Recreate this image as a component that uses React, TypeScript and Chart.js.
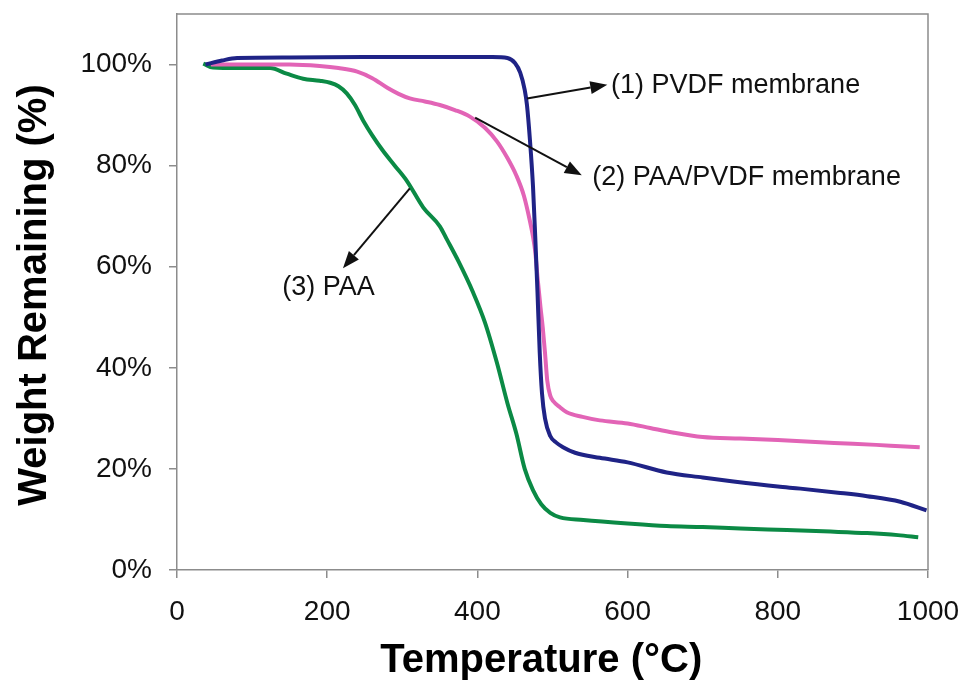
import React, { useEffect, useRef } from 'react';
import { Chart, registerables } from 'chart.js';

Chart.register(...registerables);

// (1) PVDF membrane
const pvdfT = [38, 60, 80, 150, 250, 350, 420, 440, 450, 457, 463, 466, 470, 474, 477, 480, 483, 486, 490, 497, 505, 514, 530, 563, 600, 652, 700, 741, 800, 830, 880, 919, 963, 998];
const pvdfW = [100, 100.8, 101.3, 101.4, 101.5, 101.5, 101.5, 101.3, 100.3, 98.4, 95, 92, 85, 76, 66, 55, 43, 35, 30, 26.5, 25.2, 24.3, 23.2, 22.2, 21.3, 19.3, 18.3, 17.5, 16.5, 16.1, 15.3, 14.6, 13.5, 11.8];

// (2) PAA/PVDF membrane
const paaPvdfT = [45, 80, 150, 190, 215, 240, 260, 280, 295, 310, 330, 350, 370, 390, 410, 426, 440, 452, 462, 470, 474, 477, 480, 484, 487, 490, 493, 497, 501, 510, 519, 540, 563, 600, 630, 660, 700, 750, 800, 850, 900, 950, 989];
const paaPvdfW = [100, 100, 100, 99.7, 99.3, 98.6, 97.3, 95.4, 94.2, 93.3, 92.7, 92, 91, 89.7, 87.5, 84.8, 81.5, 78, 74, 69, 66, 63, 58, 52, 48, 43, 37.5, 34.5, 33.4, 32.2, 31.2, 30.3, 29.6, 29.0, 28.1, 27.2, 26.3, 26.0, 25.7, 25.3, 25.0, 24.6, 24.3];

// (3) PAA
const paaT = [35, 48, 80, 124, 146, 168, 190, 204, 215, 226, 237, 248, 260, 274, 290, 306, 328, 350, 359, 375, 394, 410, 426, 440, 452, 463, 474, 485, 497, 510, 541, 600, 652, 700, 750, 812, 870, 919, 960, 987];
const paaW = [100.2, 99.4, 99.3, 99.3, 98.2, 97.2, 96.8, 96.4, 95.7, 94.3, 92, 88.9, 86, 83, 80, 77, 71.7, 68, 65.5, 61, 55, 49, 41, 33, 26.9, 20, 15.8, 13, 11.3, 10.4, 9.9, 9.2, 8.7, 8.5, 8.2, 7.9, 7.6, 7.3, 6.9, 6.5];

const seriesNames = ['(1) PVDF membrane', '(2) PAA/PVDF membrane', '(3) PAA'];
const seriesColors = ['#1f2386', '#e264b6', '#0b8a45'];

// tick labels
const xTickValues = [0, 200, 400, 600, 800, 1000];
const xTickLabels = ['0', '200', '400', '600', '800', '1000'];
const yTickValues = [0, 20, 40, 60, 80, 100];
const yTickLabels = ['0%', '20%', '40%', '60%', '80%', '100%'];

// callouts (text anchor + arrow from curve to text), in data units
const calloutTexts = ['(1) PVDF membrane', '(2) PAA/PVDF membrane', '(3) PAA'];
const calloutTextT = [578, 553, 140];
const calloutTextW = [95.85, 77.7, 55.9];
const arrowFromT = [466, 397, 310];
const arrowFromW = [93.3, 89.5, 75.5];
const arrowToT = [573, 539, 221];
const arrowToW = [96.0, 78.1, 59.7];

const xTitle = 'Temperature (°C)';
const yTitle = 'Weight Remaining (%)';

const FONT = '"Liberation Sans", Arial, Helvetica, sans-serif';
const GREY = '#8c8c8c';

export default function App() {
  const ref = useRef<HTMLCanvasElement>(null);

  useEffect(() => {
    const canvas = ref.current;
    if (!canvas) return;

    const toPts = (t: number[], w: number[]) => t.map((v, i) => ({ x: v, y: w[i] }));

    const framePlugin = {
      id: 'frame',
      beforeDatasetsDraw(chart: any) {
        const { ctx, chartArea: a } = chart;
        ctx.save();
        ctx.strokeStyle = GREY;
        ctx.lineWidth = 1.5;
        ctx.beginPath();
        ctx.moveTo(a.left, a.top);
        ctx.lineTo(a.right, a.top);
        ctx.lineTo(a.right, a.bottom);
        ctx.stroke();
        ctx.restore();
      },
    };

    const calloutPlugin = {
      id: 'callouts',
      afterDatasetsDraw(chart: any) {
        const { ctx } = chart;
        const xs = chart.scales.x;
        const ys = chart.scales.y;
        ctx.save();
        for (let i = 0; i < calloutTexts.length; i++) {
          const x1 = xs.getPixelForValue(arrowFromT[i]);
          const y1 = ys.getPixelForValue(arrowFromW[i]);
          const x2 = xs.getPixelForValue(arrowToT[i]);
          const y2 = ys.getPixelForValue(arrowToW[i]);
          const ang = Math.atan2(y2 - y1, x2 - x1);
          const headLen = 17;
          const headHalf = 6.5;
          const bx = x2 - headLen * Math.cos(ang);
          const by = y2 - headLen * Math.sin(ang);
          ctx.strokeStyle = '#111';
          ctx.fillStyle = '#111';
          ctx.lineWidth = 2;
          ctx.beginPath();
          ctx.moveTo(x1, y1);
          ctx.lineTo(bx, by);
          ctx.stroke();
          ctx.beginPath();
          ctx.moveTo(x2, y2);
          ctx.lineTo(bx + headHalf * Math.sin(ang), by - headHalf * Math.cos(ang));
          ctx.lineTo(bx - headHalf * Math.sin(ang), by + headHalf * Math.cos(ang));
          ctx.closePath();
          ctx.fill();

          ctx.font = `27px ${FONT}`;
          ctx.textAlign = 'left';
          ctx.textBaseline = 'middle';
          ctx.fillStyle = '#111';
          ctx.fillText(
            calloutTexts[i],
            xs.getPixelForValue(calloutTextT[i]),
            ys.getPixelForValue(calloutTextW[i])
          );
        }
        ctx.restore();
      },
      afterDraw(chart: any) {
        const { ctx, chartArea: a } = chart;
        ctx.save();
        ctx.fillStyle = '#000';
        ctx.font = `bold 40px ${FONT}`;
        ctx.textAlign = 'center';
        ctx.textBaseline = 'alphabetic';
        ctx.fillText(xTitle, a.left + (a.right - a.left) * 0.485, 672);
        ctx.translate(46, (a.top + a.bottom) / 2 + 3);
        ctx.rotate(-Math.PI / 2);
        ctx.fillText(yTitle, 0, 0);
        ctx.restore();
      },
    };

    const labelFor = (values: number[], labels: string[]) => (v: any) => {
      const i = values.indexOf(Number(v));
      return i >= 0 ? labels[i] : '';
    };

    const chart = new Chart(canvas, {
      type: 'line',
      data: {
        datasets: [
          { label: seriesNames[0], data: toPts(pvdfT, pvdfW), borderColor: seriesColors[0] },
          { label: seriesNames[1], data: toPts(paaPvdfT, paaPvdfW), borderColor: seriesColors[1] },
          { label: seriesNames[2], data: toPts(paaT, paaW), borderColor: seriesColors[2] },
        ].map((d) => ({
          ...d,
          borderWidth: 4,
          pointRadius: 0,
          fill: false,
          cubicInterpolationMode: 'monotone' as const,
        })),
      },
      options: {
        responsive: false,
        animation: false,
        devicePixelRatio: 1,
        layout: { padding: { top: 14, right: 40, left: 0, bottom: 0 } },
        plugins: {
          legend: { display: false },
          tooltip: { enabled: false },
          title: { display: false },
        },
        scales: {
          x: {
            type: 'linear',
            min: 0,
            max: 1000,
            afterBuildTicks: (scale: any) => {
              scale.ticks = xTickValues.map((v) => ({ value: v }));
            },
            afterFit: (scale: any) => {
              scale.height = 113;
              scale.paddingLeft = 0;
              scale.paddingRight = 0;
            },
            ticks: {
              color: '#111',
              font: { family: FONT, size: 28 },
              padding: 17,
              maxRotation: 0,
              autoSkip: false,
              callback: labelFor(xTickValues, xTickLabels),
            },
            grid: {
              display: true,
              drawOnChartArea: false,
              drawTicks: true,
              tickLength: 8,
              color: GREY,
              lineWidth: 1.5,
            },
            border: { display: true, color: GREY, width: 1.5 },
            title: { display: false },
          },
          y: {
            type: 'linear',
            min: 0,
            max: 110,
            afterBuildTicks: (scale: any) => {
              scale.ticks = yTickValues.map((v) => ({ value: v }));
            },
            afterFit: (scale: any) => {
              scale.width = 177;
              scale.paddingTop = 0;
              scale.paddingBottom = 0;
            },
            ticks: {
              color: '#111',
              font: { family: FONT, size: 28 },
              padding: 17,
              callback: labelFor(yTickValues, yTickLabels),
            },
            grid: {
              display: true,
              drawOnChartArea: false,
              drawTicks: true,
              tickLength: 8,
              color: GREY,
              lineWidth: 1.5,
            },
            border: { display: true, color: GREY, width: 1.5 },
            title: { display: false },
          },
        },
      },
      plugins: [framePlugin, calloutPlugin],
    });

    return () => chart.destroy();
  }, []);

  return (
    <div style={{ position: 'absolute', left: 0, top: 0, width: 968, height: 683, background: '#fff' }}>
      <canvas ref={ref} width={968} height={683} style={{ display: 'block', width: 968, height: 683 }} />
    </div>
  );
}
